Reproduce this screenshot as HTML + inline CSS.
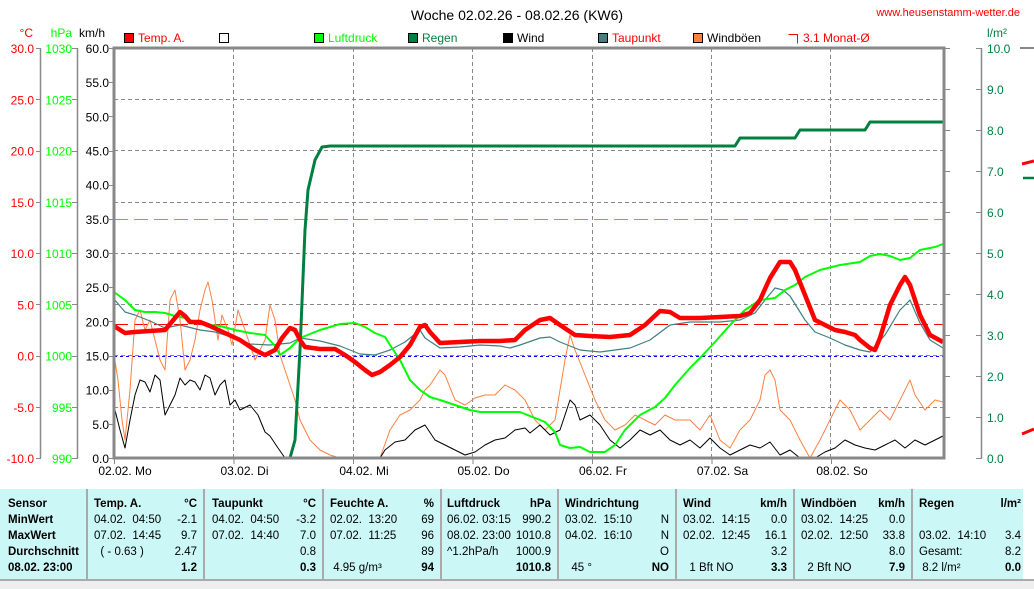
<!DOCTYPE html>
<html><head><meta charset="utf-8"><style>
body{margin:0;background:#fff;width:1034px;height:587px;overflow:hidden;font-family:"Liberation Sans",sans-serif}
svg{position:absolute;left:0;top:0}
text{font-family:"Liberation Sans",sans-serif;font-size:12px}
.tb{position:absolute;top:489px;height:90px;background:#ccf7f7;font-size:11.5px;line-height:16px;padding-top:7px !important;box-sizing:border-box;border-right:2px solid #aaa}
.tb div{display:flex;justify-content:space-between;white-space:pre;height:16px}
.b{font-weight:bold}
</style></head><body>
<svg width="1034" height="587" xmlns="http://www.w3.org/2000/svg">
<text x="517" y="20" text-anchor="middle" font-size="14" style="font-size:14px">Woche 02.02.26 - 08.02.26 (KW6)</text>
<text x="1020" y="16" text-anchor="end" fill="#f00" style="font-size:11px">www.heusenstamm-wetter.de</text>
<g style="font-size:12px">
<rect x="124.5" y="33.5" width="9" height="9" fill="#f00" stroke="#000"/><text x="138" y="42" fill="#f00">Temp. A.</text>
<rect x="219.5" y="33.5" width="9" height="9" fill="#fff" stroke="#000"/>
<rect x="314.5" y="33.5" width="9" height="9" fill="#0f0" stroke="#000"/><text x="328" y="42" fill="#0f0">Luftdruck</text>
<rect x="408.5" y="33.5" width="9" height="9" fill="#008040" stroke="#000"/><text x="422" y="42" fill="#008040">Regen</text>
<rect x="503.5" y="33.5" width="9" height="9" fill="#000" stroke="#000"/><text x="517" y="42">Wind</text>
<rect x="598.5" y="33.5" width="9" height="9" fill="#408080" stroke="#000"/><text x="612" y="42" fill="#f00">Taupunkt</text>
<rect x="693.5" y="33.5" width="9" height="9" fill="#ff8040" stroke="#000"/><text x="707" y="42">Windböen</text>
<path d="M788.5 34.5H797.5V43.5" fill="none" stroke="#f00"/><text x="803" y="42" fill="#f00">3.1 Monat-Ø</text>
</g>
<text x="33" y="37" text-anchor="end" fill="#f00">°C</text>
<text x="72" y="37" text-anchor="end" fill="#0f0">hPa</text>
<text x="105" y="37" text-anchor="end">km/h</text>
<text x="997" y="37" text-anchor="middle" fill="#008040">l/m²</text>
<g stroke="#888" stroke-width="1.5">
<line x1="40.5" y1="48" x2="40.5" y2="458"/><line x1="77.5" y1="48" x2="77.5" y2="458"/><line x1="981.5" y1="48" x2="981.5" y2="458"/>
</g>
<g stroke="#888" stroke-dasharray="4,3" fill="none">
<path d="M114 99.5H944M114 150.5H944M114 202.5H944M114 253.5H944M114 304.5H944M114 355.5H944M114 407.5H944"/>
<path d="M233.5 48V458M353.5 48V458M472.5 48V458M592.5 48V458M711.5 48V458M830.5 48V458"/>
</g>
<line x1="114" y1="219.5" x2="944" y2="219.5" stroke="#0f0" stroke-dasharray="14,6"/>
<line x1="114" y1="324.5" x2="944" y2="324.5" stroke="#f00" stroke-dasharray="14,6"/>
<line x1="114" y1="356.5" x2="944" y2="356.5" stroke="#00f" stroke-dasharray="3,3"/>
<g fill="none" stroke-linejoin="round">
<polyline stroke="#ff8040" stroke-width="1" points="114,355 118,380 122,420 125,440 130,390 135,320 140,310 145,330 150,320 155,340 160,360 165,370 170,300 175,290 180,320 185,370 190,360 195,340 200,310 205,290 208,282 212,300 218,340 222,315 228,330 232,345 238,310 245,330 255,360 265,340 270,305 275,320 280,355 285,370 290,385 295,400 300,420 305,430 310,440 320,450 330,455 340,458 380,458 390,430 400,415 410,410 420,400 425,390 430,385 440,370 445,375 455,400 465,405 475,398 485,395 495,395 505,385 515,390 525,400 535,420 545,430 555,420 565,360 570,335 575,350 585,375 595,400 605,420 615,430 625,425 635,415 645,420 655,425 665,415 675,420 690,420 700,430 710,415 720,440 730,448 740,430 750,420 760,400 765,375 770,370 775,380 780,410 790,420 800,440 810,458 820,440 830,420 840,400 850,410 860,430 870,420 880,410 890,420 900,400 910,380 915,395 925,410 935,400 943,402"/>
<polyline stroke="#000" stroke-width="1" points="114,406 120,430 125,448 130,420 135,395 140,380 145,382 150,392 155,375 160,380 165,415 170,405 175,395 180,378 185,385 190,380 195,382 200,390 205,375 210,378 215,395 220,385 225,380 230,405 235,400 240,410 250,405 258,415 265,432 270,436 278,448 285,458 380,458 385,450 395,442 405,440 415,430 425,425 435,440 445,445 455,450 465,455 475,452 485,445 495,440 505,438 515,430 525,428 530,433 540,425 545,430 550,435 560,430 570,400 575,405 580,420 590,415 600,425 610,440 620,448 630,440 640,430 650,435 660,430 670,440 680,445 690,440 700,448 710,438 720,448 730,455 740,450 750,445 760,448 770,442 780,455 790,450 800,458 815,458 825,452 835,448 845,440 855,445 865,448 875,450 885,445 895,440 905,448 915,440 925,445 935,440 943,436"/>
<polyline stroke="#408080" stroke-width="1.2" points="114,299 125,312 135,315 150,321 165,328 180,325 200,330 215,332 225,335 250,344 270,345 290,343 300,338 320,341 340,346 360,354 375,355 390,350 405,342 420,330 425,338 440,348 460,347 480,345 500,346 510,348 520,345 540,338 550,337 560,342 580,350 600,352 630,348 650,340 670,325 690,322 720,322 740,320 755,313 765,300 775,288 783,290 790,296 805,320 815,332 830,338 845,345 860,350 870,352 885,335 900,310 910,300 920,323 930,340 943,348"/>
<polyline stroke="#0f0" stroke-width="2" points="114,292 125,300 135,310 145,312 155,312 165,313 175,316 185,318 195,322 210,325 220,326 235,330 250,333 265,335 275,346 280,355 290,348 300,338 320,330 340,324 355,323 365,327 375,333 385,337 390,345 400,360 410,380 420,390 430,397 440,400 455,405 470,410 480,412 500,412 520,412 535,418 545,422 555,432 560,445 570,448 580,447 590,452 605,452 615,445 625,430 640,415 655,407 665,398 675,385 690,368 700,358 715,342 730,325 745,310 760,300 775,298 785,290 795,285 805,277 820,270 840,265 860,262 870,256 880,254 890,256 900,260 910,258 920,250 935,247 943,244"/>
<polyline stroke="#008040" stroke-width="3" points="114,458 290,458 295,440 300,350 305,230 308,190 315,160 322,147 330,146 735,146 740,138 795,138 800,130 865,130 870,122 943,122"/>
<polyline stroke="#f00" stroke-width="4.5" points="114,326 125,333 135,332 150,331 165,330 175,318 180,312 185,316 190,322 200,322 210,326 225,333 240,340 255,350 265,355 275,350 282,338 290,328 295,330 300,340 305,347 320,349 335,349 345,355 355,362 365,370 372,375 380,372 390,365 400,357 410,345 420,327 425,325 430,332 440,343 460,342 480,341 500,341 515,340 525,330 540,320 550,318 560,325 575,335 590,336 610,337 630,335 645,325 660,311 670,312 680,318 700,318 720,317 740,316 750,313 760,300 770,278 780,262 790,262 795,270 805,295 815,320 825,325 835,330 845,332 855,335 860,340 870,348 875,350 880,338 890,305 900,285 905,277 910,285 920,315 930,335 943,342"/>
</g>
<rect x="114" y="48" width="830" height="410" fill="none" stroke="#888" stroke-width="3"/>
<g stroke="#888"><path d="M944 89.5H950M944 130.5H950M944 171.5H950M944 212.5H950M944 253.5H950M944 294.5H950M944 335.5H950M944 376.5H950M944 417.5H950M944 48.5H950"/></g>
<path d="M1022 164l12-3M1022 434l12-5" stroke="#f00" stroke-width="3"/>
<path d="M1023 178h11" stroke="#008040" stroke-width="2.5"/>
<path d="M1020 48h14" stroke="#888" stroke-width="2"/>
<g id="lbl" style="font-size:12px"></g>
</svg>
<div class="tb" style="left:0;width:88px;padding-left:8px"><div class="b">Sensor</div><div class="b">MinWert</div><div class="b">MaxWert</div><div class="b">Durchschnitt</div><div class="b">08.02. 23:00</div></div>
<div class="tb" style="left:88px;width:117px;padding:5px 6px 0 6px"><div class="b"><span>Temp. A.</span><span>°C</span></div><div><span>04.02.  04:50</span><span>-2.1</span></div><div><span>07.02.  14:45</span><span>9.7</span></div><div><span>  ( - 0.63 )</span><span>2.47</span></div><div><span></span><span class="b">1.2</span></div></div>
<div class="tb" style="left:205px;width:119px;padding:5px 6px 0 7px"><div class="b"><span>Taupunkt</span><span>°C</span></div><div><span>04.02.  04:50</span><span>-3.2</span></div><div><span>07.02.  14:40</span><span>7.0</span></div><div><span></span><span>0.8</span></div><div><span></span><span class="b">0.3</span></div></div>
<div class="tb" style="left:324px;width:118px;padding:5px 6px 0 6px"><div class="b"><span>Feuchte A.</span><span>%</span></div><div><span>02.02.  13:20</span><span>69</span></div><div><span>07.02.  11:25</span><span>96</span></div><div><span></span><span>89</span></div><div><span> 4.95 g/m³</span><span class="b">94</span></div></div>
<div class="tb" style="left:442px;width:117px;padding:5px 6px 0 5px"><div class="b"><span>Luftdruck</span><span>hPa</span></div><div><span>06.02. 03:15</span><span>990.2</span></div><div><span>08.02. 23:00</span><span>1010.8</span></div><div><span>^1.2hPa/h</span><span>1000.9</span></div><div><span></span><span class="b">1010.8</span></div></div>
<div class="tb" style="left:559px;width:118px;padding:5px 6px 0 6px"><div class="b"><span>Windrichtung</span><span></span></div><div><span>03.02.  15:10</span><span>N</span></div><div><span>04.02.  16:10</span><span>N</span></div><div><span></span><span>O</span></div><div><span>  45 °</span><span class="b">NO</span></div></div>
<div class="tb" style="left:677px;width:118px;padding:5px 6px 0 6px"><div class="b"><span>Wind</span><span>km/h</span></div><div><span>03.02.  14:15</span><span>0.0</span></div><div><span>02.02.  12:45</span><span>16.1</span></div><div><span></span><span>3.2</span></div><div><span>  1 Bft NO</span><span class="b">3.3</span></div></div>
<div class="tb" style="left:795px;width:118px;padding:5px 6px 0 6px"><div class="b"><span>Windböen</span><span>km/h</span></div><div><span>03.02.  14:25</span><span>0.0</span></div><div><span>02.02.  12:50</span><span>33.8</span></div><div><span></span><span>8.0</span></div><div><span>  2 Bft NO</span><span class="b">7.9</span></div></div>
<div class="tb" style="left:913px;width:110px;padding:5px 2px 0 6px;border-right:none"><div class="b"><span>Regen</span><span>l/m²</span></div><div><span>&nbsp;</span></div><div><span>03.02.  14:10</span><span>3.4</span></div><div><span>Gesamt:</span><span>8.2</span></div><div><span> 8.2 l/m²</span><span class="b">0.0</span></div></div>
<div style="position:absolute;left:0;top:579px;width:1034px;height:8px;background:#eee;border-top:2px solid #aaa"></div>
<script>
var ns="http://www.w3.org/2000/svg",g=document.getElementById('lbl');
function t(x,y,s,c,a){var e=document.createElementNS(ns,'text');e.setAttribute('x',x);e.setAttribute('y',y);e.setAttribute('fill',c);e.setAttribute('text-anchor',a||'end');e.textContent=s;g.appendChild(e);}
function l(x1,y,x2,c){var e=document.createElementNS(ns,'line');e.setAttribute('x1',x1);e.setAttribute('x2',x2);e.setAttribute('y1',y);e.setAttribute('y2',y);e.setAttribute('stroke',c||'#888');g.appendChild(e);}
for(var i=0;i<=8;i++){var y=48+i*51.25;t(34,y+5,(30-5*i).toFixed(1),'#f00');t(72,y+5,String(1030-5*i),'#0f0');l(36,Math.round(y)+.5,41);l(72,Math.round(y)+.5,78);}
for(var i=0;i<=12;i++){var y=48+i*410/12;t(109,y+5,(60-5*i).toFixed(1),'#000');l(108,Math.round(y)+.5,114);}
for(var i=0;i<=10;i++){var y=48+i*41;t(987,y+5,(10-i).toFixed(1),'#008040','start');l(976,Math.round(y)+.5,982);}
var d=['02.02.  Mo','03.02.  Di','04.02.  Mi','05.02.  Do','06.02.  Fr','07.02.  Sa','08.02.  So'];
for(var i=0;i<7;i++){var x=114+i*119.5;t(x+11,475,d[i],'#000','middle');var e=document.createElementNS(ns,'line');e.setAttribute('x1',x+.5);e.setAttribute('x2',x+.5);e.setAttribute('y1',458);e.setAttribute('y2',464);e.setAttribute('stroke','#888');g.appendChild(e);}
</script>
</body></html>
